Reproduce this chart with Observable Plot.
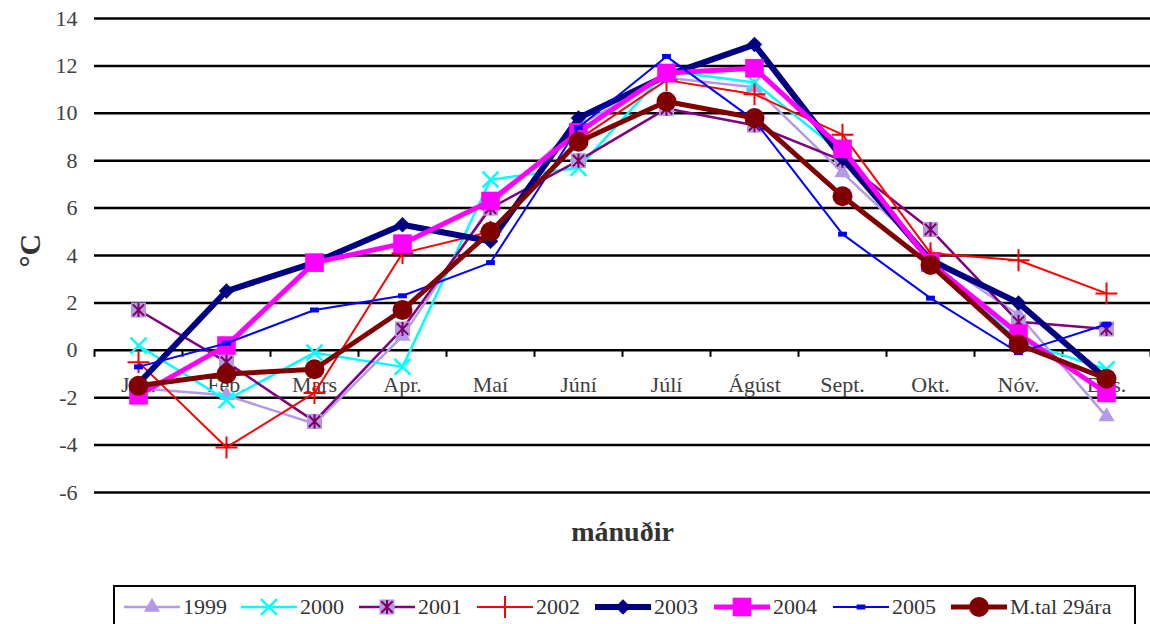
<!DOCTYPE html>
<html>
<head>
<meta charset="utf-8">
<script src="https://cdn.jsdelivr.net/npm/d3@7"></script>
<script src="https://cdn.jsdelivr.net/npm/@observablehq/plot@0.6"></script>
<style>
  body { margin: 0; background: #fff; font-family: "Liberation Serif", "Times New Roman", serif; }
  #chart { position: relative; width: 1150px; height: 624px; overflow: hidden; }
  #legend { position: absolute; left: 113px; top: 585px; width: 1023px; height: 46px;
            border: 2px solid #000; box-sizing: border-box; background: #fff; }
  .item { position: absolute; top: 0; height: 40px; display: flex; align-items: center;
          font-size: 22px; color: #333; white-space: nowrap; }
  .item svg { display: block; margin-right: 3px; }
</style>
</head>
<body>
<div id="chart"><div id="plot"></div><div id="legend"></div></div>
<script>
// ---- data ----
const months = ["Jan.", "Feb.", "Mars", "Apr.", "Maí", "Júní", "Júlí", "Ágúst", "Sept.", "Okt.", "Nóv.", "Des."];
const seriesNames = ["1999", "2000", "2001", "2002", "2003", "2004", "2005", "M.tal 29ára"];
const y1999 = [-1.6, -1.9, -3.1, 0.6, 6.1, 9.5, 11.5, 11.1, 7.5, 4.0, 1.5, -2.8];
const y2000 = [0.2, -2.1, -0.1, -0.7, 7.2, 7.7, 11.8, 11.3, 8.3, 3.8, 0.4, -0.8];
const y2001 = [1.7, -0.5, -3.0, 0.9, 6.0, 8.0, 10.2, 9.5, 8.0, 5.1, 1.2, 0.9];
const y2002 = [-0.5, -4.1, -1.8, 4.1, 5.0, 8.9, 11.4, 10.8, 9.1, 4.1, 3.8, 2.4];
const y2003 = [-1.4, 2.5, 3.7, 5.3, 4.6, 9.8, 11.6, 12.9, 8.1, 3.8, 2.0, -1.2];
const y2004 = [-1.9, 0.2, 3.7, 4.5, 6.3, 9.2, 11.7, 11.9, 8.5, 3.7, 0.7, -1.8];
const y2005 = [-0.7, 0.3, 1.7, 2.3, 3.7, 9.4, 12.4, 9.7, 4.9, 2.2, -0.1, 1.1];
const yMtal = [-1.5, -1.0, -0.8, 1.7, 5.0, 8.8, 10.5, 9.8, 6.5, 3.6, 0.25, -1.2];
const seriesValues = [y1999, y2000, y2001, y2002, y2003, y2004, y2005, yMtal];
const yTicks = [-6, -4, -2, 0, 2, 4, 6, 8, 10, 12, 14];

// ---- styles ----
const dash = { draw(ctx, size) { const s = Math.sqrt(size); ctx.rect(-s * 0.5, -s * 0.28, s, s * 0.56); } };
const star = { draw(ctx, size) {
  const r = Math.sqrt(size) * 0.5;
  ctx.moveTo(0, -r); ctx.lineTo(0, r);
  ctx.moveTo(-r * 0.8, -r * 0.8); ctx.lineTo(r * 0.8, r * 0.8);
  ctx.moveTo(r * 0.8, -r * 0.8); ctx.lineTo(-r * 0.8, r * 0.8);
} };
const styles = [
  { stroke: "#b39ae8", width: 2.5, markers: [{ symbol: d3.symbolTriangle, fill: "#b39ae8", r: 6 }] },
  { stroke: "#00ffff", width: 2.5, markers: [{ symbol: d3.symbolTimes, stroke: "#00ffff", r: 7.3, sw: 2.5 }] },
  { stroke: "#800080", width: 2.5, markers: [{ symbol: d3.symbolSquare, fill: "#b39ae8", r: 8.5 },
                                             { symbol: star, stroke: "#800060", r: 8, sw: 2 }] },
  { stroke: "#ff0000", width: 2, markers: [{ symbol: d3.symbolPlus, stroke: "#ff0000", r: 7.1, sw: 2 }] },
  { stroke: "#000080", width: 6, markers: [{ symbol: d3.symbolDiamond2, fill: "#000080", r: 7 }] },
  { stroke: "#ff00ff", width: 5, markers: [{ symbol: d3.symbolSquare, fill: "#ff00ff", r: 10.5 }] },
  { stroke: "#0000ff", width: 2, markers: [{ symbol: dash, fill: "#0000ff", r: 5 }] },
  { stroke: "#800000", width: 5, markers: [{ symbol: d3.symbolCircle, fill: "#800000", r: 10 }] }
];

const rows = seriesNames.map((name, s) => seriesValues[s].map((v, i) => ({ series: name, m: i + 1, v })));

const marks = [
  Plot.gridY(yTicks, { stroke: "#000", strokeOpacity: 1, strokeWidth: 2.5 }),
  Plot.axisY(yTicks, { tickSize: 0, tickPadding: 17, fontSize: 22, color: "#404040", label: null, tickFormat: d => String(d) }),
  Plot.ruleX(d3.range(0.5, 13, 1), { y1: 0, y2: 0, insetBottom: -7, stroke: "#000", strokeWidth: 2 }),
  Plot.text(months, { x: (d, i) => i + 1, y: 0, dy: 35, text: d => d, fontSize: 22, fill: "#404040" })
];
rows.forEach((data, s) => {
  const st = styles[s];
  marks.push(Plot.line(data, { x: "m", y: "v", stroke: st.stroke, strokeWidth: st.width, strokeLinejoin: "miter" }));
  st.markers.forEach(mk => {
    marks.push(Plot.dot(data, { x: "m", y: "v", symbol: mk.symbol, r: mk.r,
      fill: mk.fill || "none", stroke: mk.stroke || "none", strokeWidth: mk.sw || 1 }));
  });
});
marks.push(Plot.text(["°C"], { text: d => d, frameAnchor: "left", dx: -64, dy: 12, rotate: -90, fontSize: 30, fontWeight: "bold", fill: "#333" }));
marks.push(Plot.text(["mánuðir"], { text: d => d, frameAnchor: "bottom", dy: 48, fontSize: 28, fontWeight: "bold", fill: "#333" }));

const chart = Plot.plot({
  width: 1150, height: 580,
  marginTop: 18, marginBottom: 88, marginLeft: 94, marginRight: 0,
  style: { fontFamily: "Liberation Serif", background: "#fff", overflow: "visible" },
  x: { type: "linear", domain: [0.5, 12.5], axis: null },
  y: { domain: [-6, 14], axis: null },
  marks
});
document.getElementById("plot").appendChild(chart);

// ---- legend ----
const legend = d3.select("#legend");
const lineStarts = [124, 241, 359, 477, 595, 714, 833, 951];
seriesNames.forEach((name, s) => {
  const st = styles[s];
  const item = legend.append("div").attr("class", "item").style("left", (lineStarts[s] - 115) + "px");
  const svg = item.append("svg").attr("width", 56).attr("height", 40);
  svg.append("line").attr("x1", 0).attr("x2", 56).attr("y1", 20).attr("y2", 20)
    .attr("stroke", st.stroke).attr("stroke-width", st.width);
  st.markers.forEach(mk => {
    svg.append("path").attr("transform", "translate(28,20)")
      .attr("d", d3.symbol(mk.symbol, Math.PI * mk.r * mk.r)())
      .attr("fill", mk.fill || "none").attr("stroke", mk.stroke || "none").attr("stroke-width", mk.sw || 1);
  });
  item.append("span").text(name);
});
</script>
</body>
</html>
